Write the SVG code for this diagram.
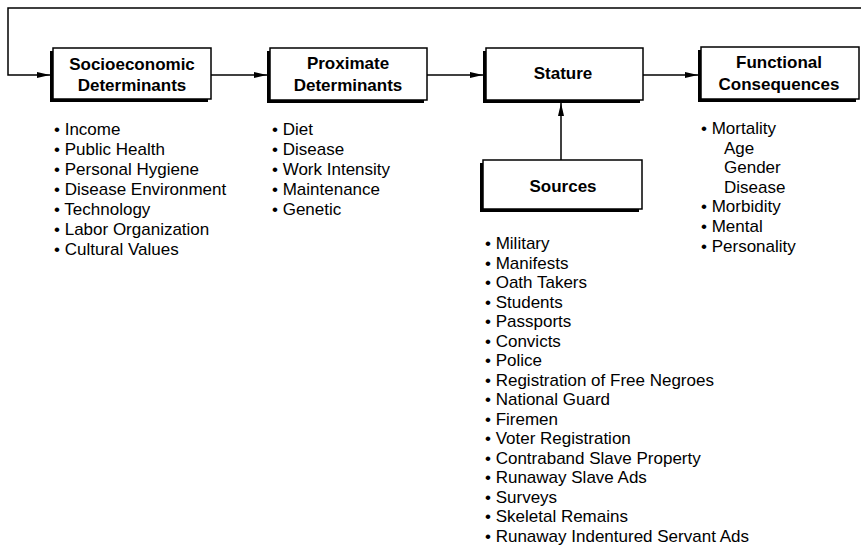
<svg xmlns="http://www.w3.org/2000/svg" width="861" height="547" viewBox="0 0 861 547">
<style>
.box{fill:#fff;stroke:#000;stroke-width:1.5}
.shadow{fill:#000}
.lbl{font-family:"Liberation Sans",Arial,Helvetica,sans-serif;font-size:17px;font-weight:bold;text-anchor:middle;fill:#000}
.lst{font-family:"Liberation Sans",Arial,Helvetica,sans-serif;font-size:17px;fill:#000}
.con{fill:none;stroke:#000;stroke-width:1.5}
</style>
<defs>
<marker id="arr" markerUnits="userSpaceOnUse" markerWidth="14" markerHeight="8" refX="13" refY="4" orient="auto">
<path d="M0,1 L13,4 L0,7 z" fill="#000"/>
</marker>
</defs>
<rect width="861" height="547" fill="#fff"/>
<g id="connectors">
<polyline class="con" points="861,8 8,8 8,75 50,75" marker-end="url(#arr)"/>
<line class="con" x1="211" y1="75" x2="267" y2="75" marker-end="url(#arr)"/>
<line class="con" x1="427" y1="75" x2="483" y2="75" marker-end="url(#arr)"/>
<line class="con" x1="643" y1="75" x2="698" y2="75" marker-end="url(#arr)"/>
<line class="con" x1="561" y1="160" x2="561" y2="103" marker-end="url(#arr)"/>
</g>
<g id="socioeconomic">
<rect class="shadow" x="50" y="51" width="158" height="51"/>
<rect class="box" x="53" y="48" width="158" height="51"/>
<text class="lbl"><tspan x="132" y="70">Socioeconomic</tspan><tspan x="132" y="91">Determinants</tspan></text>
<text class="lst"><tspan x="54" y="135">• Income</tspan><tspan x="54" y="155">• Public Health</tspan><tspan x="54" y="175">• Personal Hygiene</tspan><tspan x="54" y="195">• Disease Environment</tspan><tspan x="54" y="215">• Technology</tspan><tspan x="54" y="235">• Labor Organization</tspan><tspan x="54" y="255">• Cultural Values</tspan></text>
</g>
<g id="proximate">
<rect class="shadow" x="267" y="51" width="157" height="52"/>
<rect class="box" x="270" y="48" width="157" height="52"/>
<text class="lbl"><tspan x="348" y="69">Proximate</tspan><tspan x="348" y="91">Determinants</tspan></text>
<text class="lst"><tspan x="272" y="135">• Diet</tspan><tspan x="272" y="155">• Disease</tspan><tspan x="272" y="175">• Work Intensity</tspan><tspan x="272" y="195">• Maintenance</tspan><tspan x="272" y="215">• Genetic</tspan></text>
</g>
<g id="stature">
<rect class="shadow" x="483" y="51" width="157" height="52"/>
<rect class="box" x="486" y="48" width="157" height="52"/>
<text class="lbl" x="563" y="79">Stature</text>
</g>
<g id="functional">
<rect class="shadow" x="698" y="50" width="158" height="52"/>
<rect class="box" x="701" y="47" width="158" height="52"/>
<text class="lbl"><tspan x="779" y="68">Functional</tspan><tspan x="779" y="90">Consequences</tspan></text>
<text class="lst"><tspan x="701" y="134">• Mortality</tspan><tspan x="724" y="153.6">Age</tspan><tspan x="724" y="173.2">Gender</tspan><tspan x="724" y="192.8">Disease</tspan><tspan x="701" y="212.4">• Morbidity</tspan><tspan x="701" y="232">• Mental</tspan><tspan x="701" y="251.6">• Personality</tspan></text>
</g>
<g id="sources">
<rect class="shadow" x="480" y="163" width="159" height="49"/>
<rect class="box" x="483" y="160" width="159" height="49"/>
<text class="lbl" x="563" y="192">Sources</text>
<text class="lst"><tspan x="485" y="249">• Military</tspan><tspan x="485" y="268.5">• Manifests</tspan><tspan x="485" y="288.1">• Oath Takers</tspan><tspan x="485" y="307.6">• Students</tspan><tspan x="485" y="327.1">• Passports</tspan><tspan x="485" y="346.7">• Convicts</tspan><tspan x="485" y="366.2">• Police</tspan><tspan x="485" y="385.7">• Registration of Free Negroes</tspan><tspan x="485" y="405.2">• National Guard</tspan><tspan x="485" y="424.8">• Firemen</tspan><tspan x="485" y="444.3">• Voter Registration</tspan><tspan x="485" y="463.8">• Contraband Slave Property</tspan><tspan x="485" y="483.4">• Runaway Slave Ads</tspan><tspan x="485" y="502.9">• Surveys</tspan><tspan x="485" y="522.4">• Skeletal Remains</tspan><tspan x="485" y="542">• Runaway Indentured Servant Ads</tspan></text>
</g>
</svg>
